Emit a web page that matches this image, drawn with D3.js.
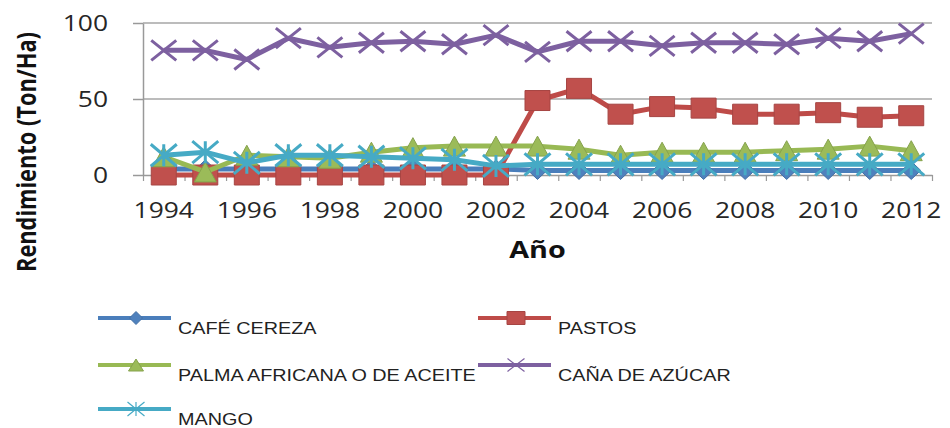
<!DOCTYPE html>
<html>
<head>
<meta charset="utf-8">
<script src="https://cdn.jsdelivr.net/npm/d3@7"></script>
<style>
  body { margin: 0; background: #fff; }
  svg { display: block; }
</style>
</head>
<body>
<div id="chart"></div>
<script>
// categories and series
var years = [1994, 1995, 1996, 1997, 1998, 1999, 2000, 2001, 2002, 2003,
             2004, 2005, 2006, 2007, 2008, 2009, 2010, 2011, 2012];
var labelYears = [1994, 1996, 1998, 2000, 2002, 2004, 2006, 2008, 2010, 2012];
var yTicks = [0, 50, 100];

var cafe   = [4, 4, 4, 4, 4, 4, 4, 4, 4, 3, 3, 3, 3, 3, 3, 3, 3, 3, 3];
var pastos = [0, 0, 0, 0, 0, 0, 0, 0, 0, 49, 57, 40, 45, 44, 40, 40, 41, 38, 39];
var palma  = [12, 2, 13, 12, 11, 15, 18, 19, 19, 19, 17, 13, 15, 15, 15, 16, 17, 19, 16];
var cana   = [82, 82, 76, 90, 84, 87, 88, 86, 92, 81, 88, 88, 85, 87, 87, 86, 90, 88, 93];
var mango  = [13, 15, 8, 13, 13, 12, 11, 10, 6, 7, 7, 7, 7, 7, 7, 7, 7, 7, 7];

var names = ["CAFÉ CEREZA", "PASTOS", "PALMA AFRICANA O DE ACEITE", "CAÑA DE AZÚCAR", "MANGO"];

var series = [
  { name: names[0], values: cafe,   line: "#4A7EBB", fill: "#4F81BD", marker: "diamond" },
  { name: names[1], values: pastos, line: "#BE4B48", fill: "#C0504D", marker: "square" },
  { name: names[2], values: palma,  line: "#98B954", fill: "#9BBB59", marker: "triangle" },
  { name: names[3], values: cana,   line: "#7D60A0", fill: "#7D60A0", marker: "x" },
  { name: names[4], values: mango,  line: "#46AAC5", fill: "#46AAC5", marker: "star" }
];

var width = 950, height = 428;
var plotLeft = 143, plotRight = 932, plotTop = 23, plotBottom = 175;
var sx = 1.2; // the picture is stretched sideways, so is its text

var svg = d3.select("#chart").append("svg")
  .attr("width", width)
  .attr("height", height);

var x = d3.scaleLinear()
  .domain([years[0] - 0.5, years[years.length - 1] + 0.5])
  .range([plotLeft, plotRight]);
var y = d3.scaleLinear().domain([0, 100]).range([plotBottom, plotTop]);

// grid lines
svg.append("g")
  .selectAll("line")
  .data(yTicks.filter(d => d > 0))
  .enter().append("line")
  .attr("x1", plotLeft).attr("x2", plotRight)
  .attr("y1", d => y(d)).attr("y2", d => y(d))
  .attr("stroke", "#a6a6a6").attr("stroke-width", 1.5);

// y axis
var yAxis = svg.append("g")
  .attr("transform", "translate(" + plotLeft + ",0)")
  .call(d3.axisLeft(y).tickValues(yTicks).tickSize(10).tickSizeOuter(0).tickFormat(""));
yAxis.select(".domain").attr("stroke", "#999").attr("stroke-width", 1.5);
yAxis.selectAll(".tick line").attr("stroke", "#999").attr("stroke-width", 1.5);

svg.append("g")
  .selectAll("text")
  .data(yTicks)
  .enter().append("text")
  .attr("transform", d => "translate(108," + (y(d) + 8) + ") scale(" + sx + ",1)")
  .attr("text-anchor", "end")
  .style("font-family", "'Open Sans', sans-serif")
  .style("font-size", "22px")
  .attr("fill", "#262626")
  .text(d => d);

// x axis: small ticks on the category edges
var edges = years.map(d => d - 0.5).concat([years[years.length - 1] + 0.5]);
var xAxis = svg.append("g")
  .attr("transform", "translate(0," + plotBottom + ")")
  .call(d3.axisBottom(x).tickValues(edges).tickSize(6).tickSizeOuter(0).tickFormat(""));
xAxis.select(".domain").attr("stroke", "#999").attr("stroke-width", 1.5);
xAxis.selectAll(".tick line").attr("stroke", "#999").attr("stroke-width", 1.2);

svg.append("g")
  .selectAll("text")
  .data(labelYears)
  .enter().append("text")
  .attr("transform", d => "translate(" + x(d) + ",218) scale(" + sx + ",1)")
  .attr("text-anchor", "middle")
  .style("font-family", "'Open Sans', sans-serif")
  .style("font-size", "22px")
  .attr("fill", "#262626")
  .text(d => d);

// axis titles
svg.append("text")
  .attr("transform", "translate(" + (plotLeft + plotRight) / 2 + ",258) scale(1.25,1)")
  .attr("text-anchor", "middle")
  .style("font-family", "'Open Sans', sans-serif")
  .style("font-size", "23px")
  .style("font-weight", "bold")
  .attr("fill", "#111")
  .text("Año");

svg.append("text")
  .attr("transform", "translate(36,152) rotate(-90) scale(1,1.25)")
  .attr("text-anchor", "middle")
  .attr("textLength", 240)
  .attr("lengthAdjust", "spacingAndGlyphs")
  .style("font-family", "'Open Sans', sans-serif")
  .style("font-size", "22px")
  .style("font-weight", "bold")
  .attr("fill", "#111")
  .text("Rendimiento (Ton/Ha)");

// marker shapes, w x h
function markerPath(type, w, h) {
  var a = w / 2, b = h / 2;
  if (type == "diamond") return "M0," + (-b) + "L" + a + ",0L0," + b + "L" + (-a) + ",0Z";
  if (type == "square") return "M" + (-a) + "," + (-b) + "H" + a + "V" + b + "H" + (-a) + "Z";
  if (type == "triangle") return "M0," + (-b) + "L" + a + "," + b + "L" + (-a) + "," + b + "Z";
  var p = "M" + (-a) + "," + (-b) + "L" + a + "," + b + "M" + a + "," + (-b) + "L" + (-a) + "," + b;
  if (type == "star") p += "M0," + (-b) + "L0," + b;
  return p;
}
var sizes = { diamond: [19, 18], square: [25, 20], triangle: [22, 20], x: [25, 20], star: [26, 22] };
var legendSizes = { diamond: [13, 13], square: [18, 13], triangle: [15, 12], x: [17, 13], star: [17, 14] };

function styleMarker(sel, s, sw) {
  if (s.marker == "x" || s.marker == "star") {
    sel.attr("fill", "none").attr("stroke", s.fill).attr("stroke-width", sw);
  } else {
    sel.attr("fill", s.fill).attr("stroke", d3.color(s.fill).darker(0.4)).attr("stroke-width", 1);
  }
}

var line = d3.line()
  .x((d, i) => x(years[i]))
  .y(d => y(d));

series.forEach(function (s) {
  var g = svg.append("g");
  g.append("path")
    .attr("d", line(s.values))
    .attr("fill", "none")
    .attr("stroke", s.line)
    .attr("stroke-width", 5)
    .attr("stroke-linejoin", "round");
  var sz = sizes[s.marker];
  g.selectAll("path.m")
    .data(s.values)
    .enter().append("path")
    .attr("class", "m")
    .attr("transform", (d, i) => "translate(" + x(years[i]) + "," + y(d) + ")")
    .attr("d", markerPath(s.marker, sz[0], sz[1]))
    .call(styleMarker, s, 3);
});

// legend, two columns filled row by row
var legendX = [98, 478], legendY = [318, 365, 409];
var legend = svg.append("g")
  .selectAll("g")
  .data(series)
  .enter().append("g")
  .attr("transform", (d, i) => "translate(" + legendX[i % 2] + "," + legendY[Math.floor(i / 2)] + ")");

legend.append("line")
  .attr("x1", 0).attr("x2", 73)
  .attr("stroke", d => d.line)
  .attr("stroke-width", 4);

legend.append("path")
  .attr("transform", "translate(38,0)")
  .attr("d", d => markerPath(d.marker, legendSizes[d.marker][0], legendSizes[d.marker][1]))
  .each(function (d) { d3.select(this).call(styleMarker, d, 1.2); });

legend.append("text")
  .attr("transform", "translate(80,16) scale(" + sx + ",1)")
  .style("font-family", "'Liberation Sans', Arial, sans-serif")
  .style("font-size", "16.5px")
  .attr("fill", "#222")
  .text(d => d.name);
</script>
</body>
</html>
